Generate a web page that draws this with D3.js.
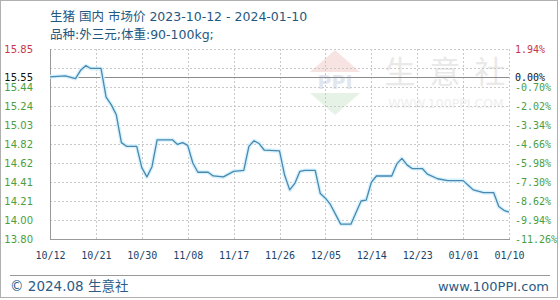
<!DOCTYPE html>
<html>
<head>
<meta charset="utf-8">
<script src="https://cdn.jsdelivr.net/npm/d3@7"></script>
<style>
  body { margin: 0; background: #fff; }
  svg { display: block; }
</style>
</head>
<body>
<div id="chart"></div>
<script>
// price series
const dates = ["2023-10-12","2023-10-15","2023-10-17","2023-10-18","2023-10-19","2023-10-20","2023-10-22",
  "2023-10-23","2023-10-24","2023-10-25","2023-10-26","2023-10-27","2023-10-29","2023-10-30","2023-10-31",
  "2023-11-01","2023-11-02","2023-11-05","2023-11-06","2023-11-07","2023-11-08","2023-11-09","2023-11-10",
  "2023-11-12","2023-11-13","2023-11-15","2023-11-17","2023-11-19","2023-11-20","2023-11-21","2023-11-22",
  "2023-11-23","2023-11-26","2023-11-27","2023-11-28","2023-11-29","2023-11-30","2023-12-01","2023-12-03",
  "2023-12-04","2023-12-05","2023-12-06","2023-12-08","2023-12-10","2023-12-12","2023-12-13","2023-12-14",
  "2023-12-15","2023-12-18","2023-12-19","2023-12-20","2023-12-21","2023-12-22","2023-12-24","2023-12-25",
  "2023-12-27","2023-12-29","2024-01-01","2024-01-02","2024-01-03","2024-01-05","2024-01-07","2024-01-08",
  "2024-01-09","2024-01-10"];
const prices = [15.55,15.56,15.53,15.62,15.67,15.64,15.64,
  15.33,15.25,15.14,14.84,14.80,14.80,14.57,14.47,
  14.58,14.87,14.87,14.82,14.84,14.81,14.62,14.52,
  14.52,14.48,14.47,14.53,14.54,14.80,14.86,14.83,
  14.76,14.75,14.49,14.33,14.40,14.53,14.54,14.54,
  14.29,14.24,14.17,13.96,13.96,14.21,14.22,14.41,
  14.48,14.48,14.61,14.67,14.60,14.56,14.56,14.50,
  14.45,14.43,14.43,14.38,14.33,14.30,14.30,14.15,
  14.11,14.09];

const basePrice = 15.55;
const xTickDates = ["2023-10-12","2023-10-21","2023-10-30","2023-11-08","2023-11-17","2023-11-26",
  "2023-12-05","2023-12-14","2023-12-23","2024-01-01","2024-01-10"];
const xTickLabels = ["10/12","10/21","10/30","11/08","11/17","11/26","12/05","12/14","12/23","01/01","01/10"];
const yGridValues = [15.85,15.645,15.44,15.235,15.03,14.825,14.62,14.415,14.21,14.005,13.80];
const yLabelValues = [15.85,15.55,15.44,15.235,15.03,14.825,14.62,14.415,14.21,14.005,13.80];
const yLabelText = ["15.85","15.55","15.44","15.24","15.03","14.82","14.62","14.41","14.21","14.00","13.80"];
const pctLabelText = ["1.94%","0.00%","-0.70%","-2.02%","-3.34%","-4.66%","-5.98%","-7.30%","-8.62%","-9.94%","-11.26%"];

const titleLine1 = "生猪 国内 市场价 2023-10-12 - 2024-01-10";
const titleLine2 = "品种:外三元;体重:90-100kg;";

const W = 560, H = 300;
const plot = { left: 50, right: 509, top: 49, bottom: 239 };
const parse = d3.timeParse("%Y-%m-%d");
const data = dates.map((d, i) => ({ date: parse(d), price: prices[i] }));

const svg = d3.select("#chart").append("svg")
    .attr("width", W)
    .attr("height", H);

// outer frame
svg.append("rect")
    .attr("x", 0.5).attr("y", 0.5)
    .attr("width", 557).attr("height", 297)
    .attr("fill", "none")
    .attr("stroke", "#b0b0b0");

const xScale = d3.scaleTime()
    .domain([parse("2023-10-12"), parse("2024-01-10")])
    .range([plot.left, plot.right]);

const yScale = d3.scaleLinear()
    .domain([13.80, 15.85])
    .range([plot.bottom, plot.top]);

// watermark
const wm = svg.append("g").attr("opacity", 0.5);
wm.append("path")
    .attr("d", "M310,72 L335,50 L360,72 Z")
    .attr("fill", "#f2c9c9");
wm.append("text")
    .attr("x", 335).attr("y", 89)
    .attr("text-anchor", "middle")
    .style("font-family", "DejaVu Sans")
    .style("font-weight", "bold")
    .style("font-size", "19px")
    .attr("fill", "#c4d0e2")
    .text("PPI");
wm.append("path")
    .attr("d", "M310,93 L360,93 L335,115 Z")
    .attr("fill", "#cfe6cf");
["生", "意", "社"].forEach((c, i) => {
    wm.append("text")
        .attr("x", 400 + i * 45).attr("y", 83)
        .attr("text-anchor", "middle")
        .style("font-family", "Noto Sans CJK SC")
        .style("font-size", "31px")
        .attr("fill", "#d4d4d4")
        .text(c);
});
wm.append("text")
    .attr("x", 446).attr("y", 108)
    .attr("text-anchor", "middle")
    .style("font-family", "DejaVu Sans")
    .style("font-size", "12.5px")
    .attr("fill", "#dedede")
    .text("WWW.100PPI.COM");

// grid
svg.append("g")
    .selectAll("line")
    .data(yGridValues)
    .join("line")
    .attr("x1", plot.left).attr("x2", plot.right)
    .attr("y1", d => Math.round(yScale(d)) + 0.5)
    .attr("y2", d => Math.round(yScale(d)) + 0.5)
    .attr("stroke", "#c8c8c8")
    .attr("stroke-dasharray", "2,2");

svg.append("g")
    .selectAll("line")
    .data(xTickDates)
    .join("line")
    .attr("x1", d => Math.round(xScale(parse(d))) + 0.5)
    .attr("x2", d => Math.round(xScale(parse(d))) + 0.5)
    .attr("y1", plot.top).attr("y2", plot.bottom)
    .attr("stroke", "#c8c8c8")
    .attr("stroke-dasharray", "2,2");

// left & bottom frame
svg.append("line")
    .attr("x1", plot.left + 0.5).attr("x2", plot.left + 0.5)
    .attr("y1", plot.top).attr("y2", plot.bottom + 0.5)
    .attr("stroke", "#999");
svg.append("line")
    .attr("x1", plot.left).attr("x2", plot.right + 1)
    .attr("y1", plot.bottom + 0.5).attr("y2", plot.bottom + 0.5)
    .attr("stroke", "#999");

// base price line
svg.append("line")
    .attr("x1", plot.left).attr("x2", plot.right)
    .attr("y1", Math.round(yScale(basePrice)) + 0.5)
    .attr("y2", Math.round(yScale(basePrice)) + 0.5)
    .attr("stroke", "#8c8c8c");

// price line
const line = d3.line()
    .x(d => xScale(d.date))
    .y(d => yScale(d.price));

svg.append("path")
    .datum(data)
    .attr("fill", "none")
    .attr("stroke", "#d6f2ff")
    .attr("stroke-width", 4)
    .attr("stroke-linejoin", "round")
    .attr("d", line);

svg.append("path")
    .datum(data)
    .attr("fill", "none")
    .attr("stroke", "#4a88ad")
    .attr("stroke-width", 1.3)
    .attr("stroke-linejoin", "round")
    .attr("d", line);

function labelColor(i) {
    return i === 0 ? "#c8364a" : i === 1 ? "#111" : "#4a9e3e";
}

// left axis labels
const leftAxis = svg.append("g")
    .attr("transform", `translate(${plot.left},0)`)
    .call(d3.axisLeft(yScale)
        .tickValues(yLabelValues)
        .tickSize(0)
        .tickPadding(17)
        .tickFormat((d, i) => yLabelText[i]));
leftAxis.select(".domain").remove();
leftAxis.selectAll("text")
    .style("font-family", "DejaVu Sans")
    .style("font-size", "10px")
    .attr("fill", (d, i) => labelColor(i));

// right axis labels
const rightAxis = svg.append("g")
    .attr("transform", `translate(${plot.right},0)`)
    .call(d3.axisRight(yScale)
        .tickValues(yLabelValues)
        .tickSize(0)
        .tickPadding(6)
        .tickFormat((d, i) => pctLabelText[i]));
rightAxis.select(".domain").remove();
rightAxis.selectAll("text")
    .style("font-family", "DejaVu Sans Mono")
    .style("font-size", "10px")
    .attr("fill", (d, i) => labelColor(i));

// bottom axis labels
const bottomAxis = svg.append("g")
    .attr("transform", `translate(0,${plot.bottom})`)
    .call(d3.axisBottom(xScale)
        .tickValues(xTickDates.map(parse))
        .tickSize(0)
        .tickPadding(13)
        .tickFormat((d, i) => xTickLabels[i]));
bottomAxis.select(".domain").remove();
bottomAxis.selectAll("text")
    .style("font-family", "DejaVu Sans Mono")
    .style("font-size", "10px")
    .attr("fill", "#1d4466");

// titles
svg.append("text")
    .attr("x", 50).attr("y", 21)
    .style("font-family", "'DejaVu Sans', 'Noto Sans CJK SC'")
    .style("font-size", "12.5px")
    .attr("fill", "#1f5880")
    .text(titleLine1);
svg.append("text")
    .attr("x", 50).attr("y", 39)
    .style("font-family", "'DejaVu Sans', 'Noto Sans CJK SC'")
    .style("font-size", "12.5px")
    .attr("fill", "#1f5880")
    .text(titleLine2);

// footer
svg.append("line")
    .attr("x1", 10).attr("x2", 550)
    .attr("y1", 275.5).attr("y2", 275.5)
    .attr("stroke", "#9a9a9a");
svg.append("text")
    .attr("x", 10).attr("y", 291)
    .style("font-family", "'DejaVu Sans', 'Noto Sans CJK SC'")
    .style("font-size", "13.5px")
    .attr("fill", "#2b5c86")
    .text("© 2024.08 生意社");
svg.append("text")
    .attr("x", 549).attr("y", 291)
    .attr("text-anchor", "end")
    .style("font-family", "DejaVu Sans")
    .style("font-size", "13px")
    .attr("fill", "#2b5c86")
    .text("www.100PPI.com");
</script>
</body>
</html>
